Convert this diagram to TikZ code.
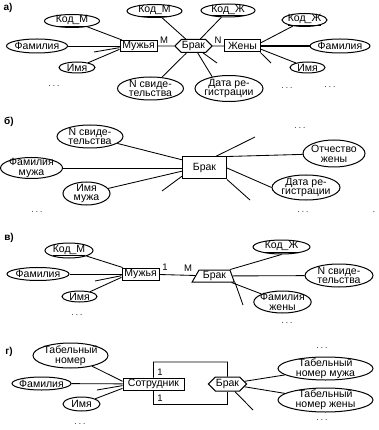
\documentclass[tikz,border=0pt]{standalone}
\usepackage{fontspec}
\setmainfont{Liberation Sans}
\usetikzlibrary{shapes.geometric,shapes.symbols}
\begin{document}
\begin{tikzpicture}[x=1pt,y=-1pt,
 every node/.style={font=\fontsize{10.5}{9.8}\selectfont},
 attr/.style={ellipse,draw,line width=1pt,inner xsep=-2pt,inner ysep=-2.5pt,align=center},
 ent/.style={rectangle,draw,line width=1pt,inner sep=0pt},
 rel/.style={signal,signal to=west and east,draw,line width=1pt,inner xsep=0.5pt,inner ysep=0pt},
 trap/.style={trapezium,trapezium left angle=60,trapezium right angle=70,draw,line width=1pt,inner xsep=0.5pt,inner ysep=0pt,minimum height=12},
 conn/.style={line width=0.85pt},
 lbl/.style={font=\fontsize{10}{10}\selectfont\bfseries},
 dots/.style={font=\fontsize{8}{8}\selectfont},
 card/.style={font=\fontsize{9.5}{9.5}\selectfont}]
\fill[white] (0,0) rectangle (378,430);
\useasboundingbox (0,0) rectangle (378,430);

% ---------- a)
\node[lbl] (la) at (8,8) {а)};
\node[ent,minimum width=37,minimum height=11] (m1) at (138.5,46) {Мужья};
\node[attr,minimum width=55,minimum height=13] (km1) at (72,21) {\underline{Код\_М}};
\node[attr,minimum width=61,minimum height=14] (fm1) at (37,46) {Фамилия};
\node[attr,minimum width=36,minimum height=11] (im1) at (77,67.5) {Имя};
\node[dots] (o1) at (54,86) {.\hspace{2pt}.\hspace{2pt}.};
\node[rel,minimum width=37,minimum height=13] (br1) at (193.5,46) {Брак};
\node[attr,minimum width=55,minimum height=13] (kmt) at (154.5,11) {\underline{Код\_М}};
\node[attr,minimum width=54,minimum height=13] (kzt) at (228,10.5) {\underline{Код\_Ж}};
\node[attr,minimum width=66,minimum height=23] (ns1) at (150.5,88.5) {N свиде-\\тельства};
\node[attr,minimum width=68,minimum height=26] (dr1) at (229,88.5) {Дата ре-\\гистрации};
\node[ent,minimum width=36,minimum height=12] (zh1) at (242.5,46) {Жены};
\node[attr,minimum width=45,minimum height=13] (kz1) at (304.5,20) {\underline{Код\_Ж}};
\node[attr,minimum width=60,minimum height=14] (fz1) at (340,46) {Фамилия};
\node[attr,minimum width=35,minimum height=11] (iz1) at (307.5,67.5) {Имя};
\node[dots] (o2) at (287,88) {.\hspace{2pt}.\hspace{2pt}.};
\node[dots] (o3) at (330,87) {.\hspace{2pt}.\hspace{2pt}.};
\node[card] (cm1) at (164,40) {M};
\node[card] (cn1) at (218,40) {N};

\draw[conn] (m1.160) -- (km1);
\draw[conn] (fm1) -- (m1);
\draw[conn] (m1.190) -- (im1);
\coordinate (e1) at (94,52);
\draw[conn] (m1.185) -- (e1);
\draw[conn] (m1) -- (br1);
\draw[conn] (br1) -- (zh1);
\draw[conn] (br1) -- (kmt);
\draw[conn] (br1) -- (kzt);
\draw[conn] (br1) -- (ns1);
\draw[conn] (br1) -- (dr1.145);
\coordinate (e2) at (217,63);
\draw[conn] (br1) -- (e2);
\draw[conn] (zh1.10) -- (kz1);
\draw[conn,line width=1.1pt] (zh1) -- (fz1);
\draw[conn] (zh1.-10) -- (iz1);
\coordinate (e3) at (271,63);
\draw[conn] (zh1.-20) -- (e3);

% ---------- b)
\node[lbl] (lb) at (9,122) {б)};
\node[ent,minimum width=44,minimum height=22] (br2) at (204.5,168) {Брак};
\node[attr,minimum width=66,minimum height=23] (ns2) at (90,136.5) {N свиде-\\тельства};
\node[attr,minimum width=62,minimum height=21] (fmz) at (31.5,168) {Фамилия\\мужа};
\node[attr,minimum width=47,minimum height=23] (imz) at (86.5,193.5) {Имя\\мужа};
\node[attr,minimum width=62,minimum height=27] (otz) at (334,153.5) {Отчество\\жены};
\node[attr,minimum width=68,minimum height=25] (dr2) at (306,187.5) {Дата ре-\\гистрации};
\node[dots] (o4) at (37,212) {.\hspace{2pt}.\hspace{2pt}.};
\node[dots] (o5) at (300,128) {.\hspace{2pt}.\hspace{2pt}.};
\node[dots] (o6) at (303,212) {.\hspace{2pt}.\hspace{2pt}.};
\node[dots] (o7) at (374,212) {.};

\draw[conn] (br2.160) -- (ns2);
\draw[conn] (fmz) -- (br2);
\draw[conn] (br2.188) -- (imz);
\coordinate (e4) at (162,191);
\draw[conn] (br2.200) -- (e4);
\coordinate (e5) at (255,137);
\draw[conn] (br2.46) -- (e5);
\draw[conn] (br2.north east) -- (otz);
\draw[conn] (br2.east) -- (dr2.west);
\coordinate (e6) at (250,200);
\draw[conn] (br2.south east) -- (e6);

% ---------- c)
\node[lbl] (lc) at (9,238) {в)};
\node[ent,minimum width=37,minimum height=12] (m3) at (140.5,274) {Мужья};
\node[attr,minimum width=48,minimum height=15] (km3) at (69,250.5) {\underline{Код\_М}};
\node[attr,minimum width=62,minimum height=13] (fm3) at (38,274) {Фамилия};
\node[attr,minimum width=35,minimum height=11] (im3) at (79.5,296.5) {Имя};
\node[dots] (o8) at (77,315) {.\hspace{2pt}.\hspace{2pt}.};
\node[trap] (br3) at (214.5,276) {Брак};
\node[attr,minimum width=57,minimum height=14] (kz3) at (281.5,247) {\underline{Код\_Ж}};
\node[attr,minimum width=68,minimum height=23] (ns3) at (339,275.5) {N свиде-\\тельства};
\node[attr,minimum width=55,minimum height=22] (fzh) at (282.5,302) {Фамилия\\жены};
\node[dots] (o9) at (287,323) {.\hspace{2pt}.\hspace{2pt}.};
\node[card] (c1) at (165,267) {1};
\node[card] (c2) at (188,268) {M};

\draw[conn] (m3.160) -- (km3);
\draw[conn] (fm3) -- (m3);
\draw[conn] (m3.190) -- (im3);
\coordinate (e7) at (95,281);
\draw[conn] (m3.185) -- (e7);
\draw[conn] (m3) -- (br3);
\draw[conn] (br3.top right corner) -- (kz3.south);
\draw[conn] (br3) -- (ns3);
\draw[conn] (br3) -- (fzh);
\coordinate (e8) at (243,305);
\draw[conn] (br3.bottom right corner) -- (e8);

% ---------- d)
\node[lbl] (ld) at (9,352) {г)};
\node[attr,minimum width=75,minimum height=25] (tn) at (70.5,355.5) {Табельный\\номер};
\node[attr,minimum width=59,minimum height=13] (fm4) at (41.5,383.5) {Фамилия};
\node[attr,minimum width=37,minimum height=14] (im4) at (81.5,404) {Имя};
\node[dots] (o10) at (80,424) {.\hspace{2pt}.\hspace{2pt}.};
\node[ent,minimum width=61,minimum height=12] (st) at (153.5,384) {Сотрудник};
\node[rel,minimum width=38,minimum height=14] (br4) at (227.5,384) {Брак};
\node[attr,minimum width=95,minimum height=23] (tnm) at (325.5,368.5) {Табельный\\номер мужа};
\node[attr,minimum width=95,minimum height=24] (tnz) at (325.5,400) {Табельный\\номер жены};
\node[dots] (o11) at (322,348) {.\hspace{2pt}.\hspace{2pt}.};
\node[dots] (o12) at (322,420) {.\hspace{2pt}.\hspace{2pt}.};
\node[card] (c3) at (160,372) {1};
\node[card] (c4) at (160,398) {1};
\coordinate (rt) at (227.5,362);
\coordinate (rb) at (227.5,404);
\draw[conn] (st.north) |- (rt) -- (br4.90);
\draw[conn] (st.south) |- (rb) -- (br4.270);

\draw[conn] (st.175) -- (tn);
\draw[conn] (fm4) -- (st);
\draw[conn] (st.188) -- (im4);
\coordinate (e9) at (97,390);
\draw[conn] (st.183) -- (e9);
\draw[conn] (br4) -- (tnm);
\draw[conn] (br4) -- (tnz);
\coordinate (e10) at (253,410);
\draw[conn] (br4) -- (e10);
\end{tikzpicture}
\end{document}
